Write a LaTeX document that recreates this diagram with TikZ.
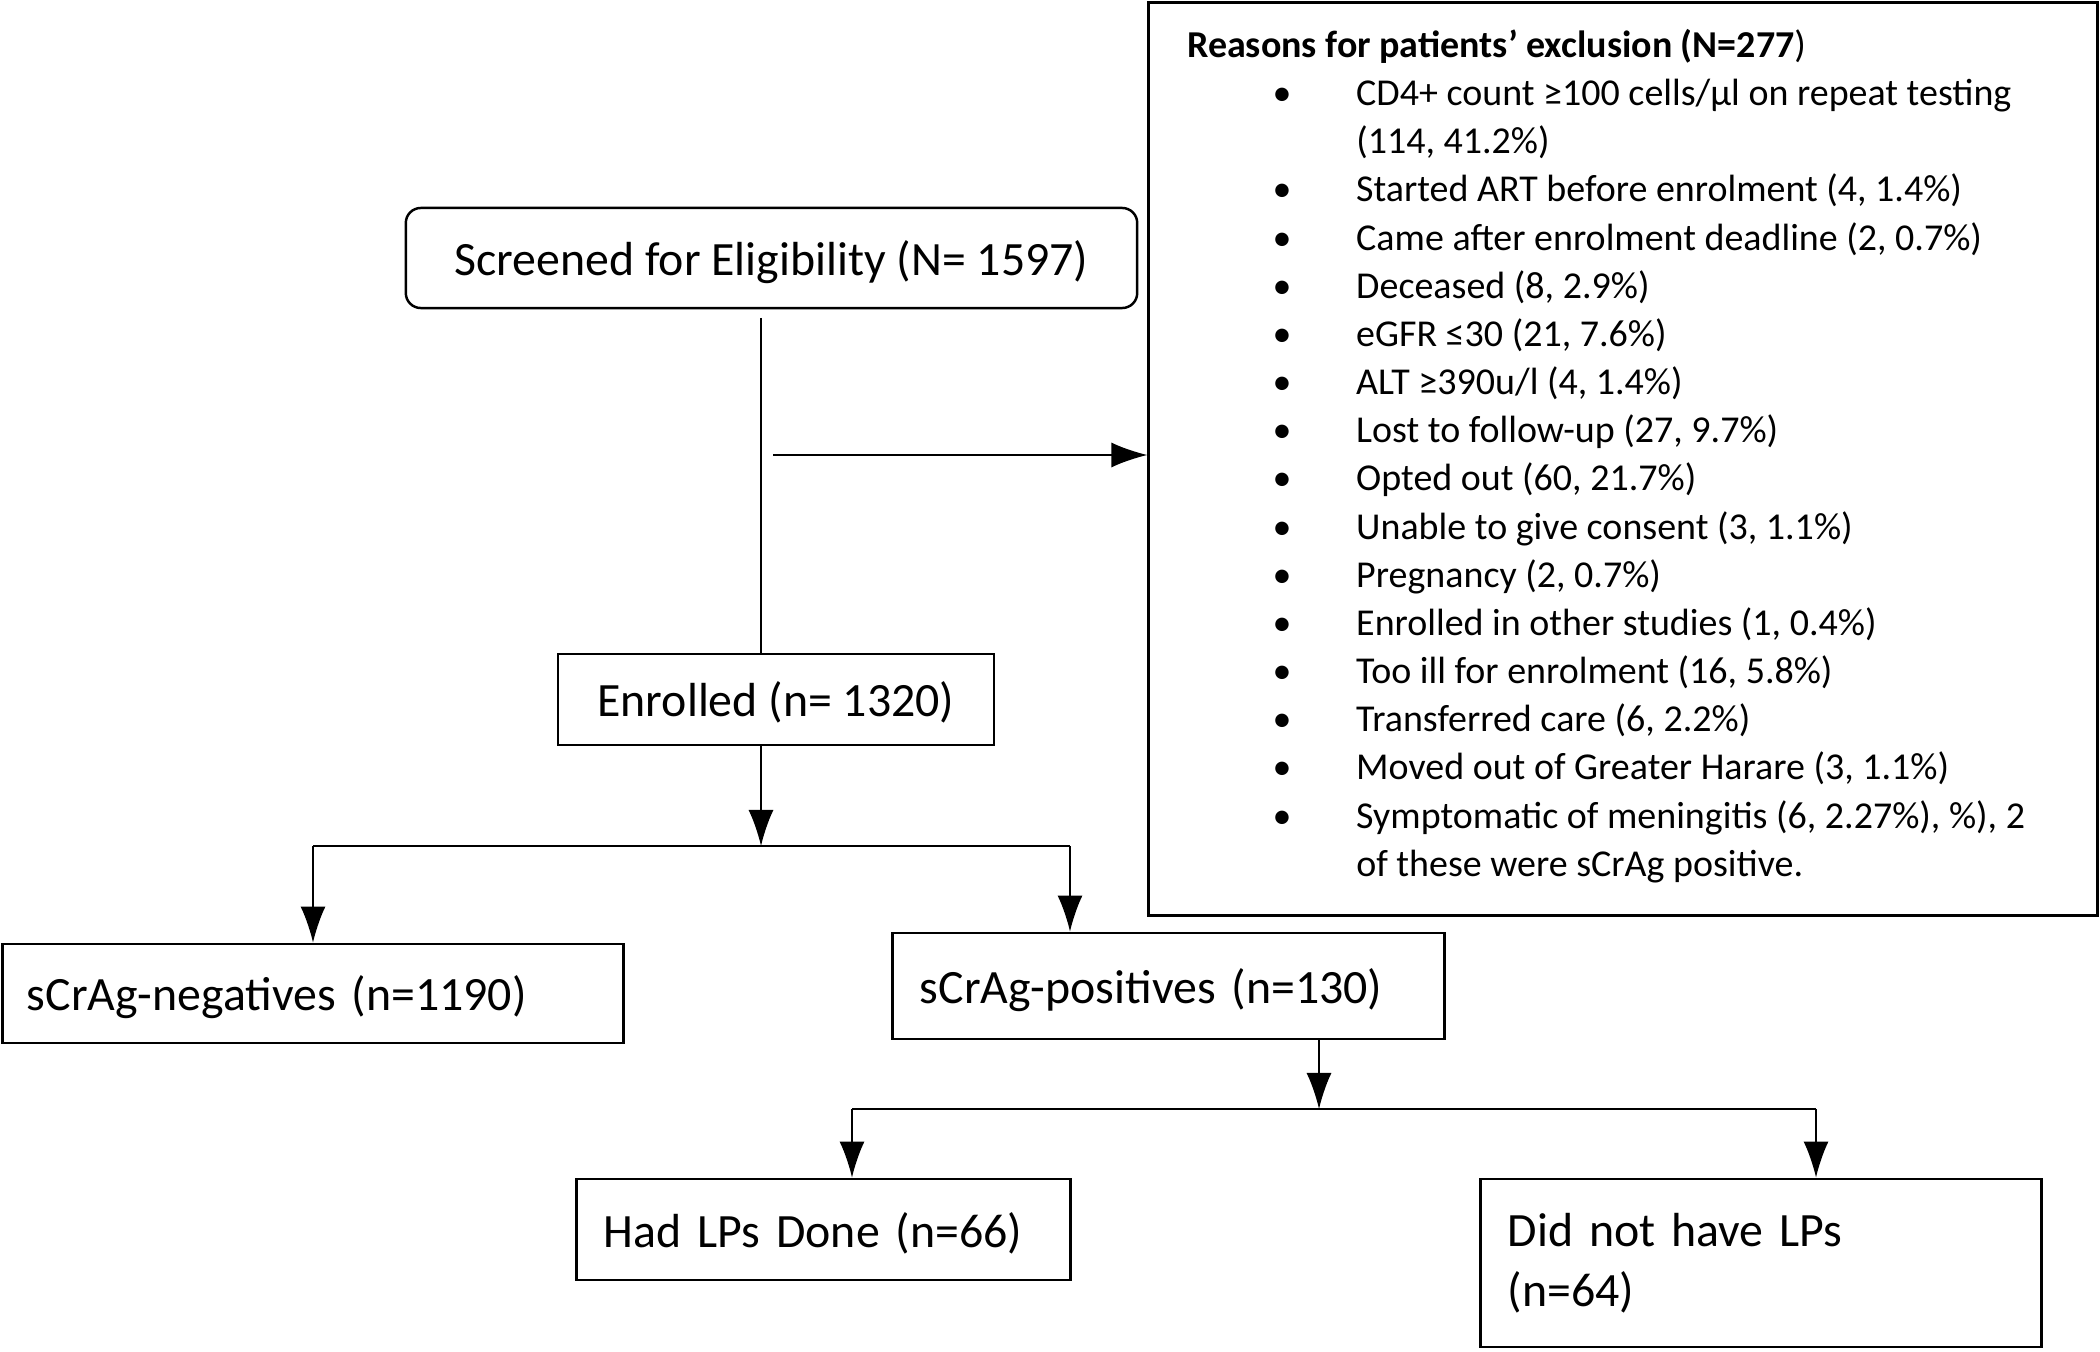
\documentclass[tikz,border=0pt]{standalone}
\usepackage{fontspec}
\setmainfont{Carlito}
\usetikzlibrary{arrows.meta,positioning}
\newcommand\reason[1]{\rlap{\makebox[1.9cm]{\textbullet}}\hspace*{1.69cm}#1}
\newcommand\reasoncont[1]{\hspace*{1.69cm}#1}
\tikzset{
    stage/.style = {
        draw,
        line width=0.8pt,
        align=left,
        inner ysep=0pt,
        font=\fontsize{13.6}{17}\selectfont,
        },
    one line/.style = {
        text depth=0pt,
        },
    thin stage/.style = {
        draw,
        line width=0.45pt,
        text depth=0pt,
        font=\fontsize{13.6}{17}\selectfont,
        },
    flow/.style = {
        line width=0.45pt,
        },
    flow arrow/.style = {
        line width=0.45pt,
        -{Latex[length=0.36cm,width=0.25cm]},
        },
    reasons/.style = {
        align=left,
        inner sep=0pt,
        anchor=north west,
        font=\fontsize{10.8}{13.7}\selectfont,
        }
}
\begin{document}
\begin{tikzpicture}[x=0.01cm,y=-0.01cm]
            \useasboundingbox (0,0) rectangle (2100,1352);

            \node[draw, line width=0.7pt, rounded corners=0.15cm, minimum width=7.31cm, minimum height=1cm,
                text depth=0pt, font=\fontsize{13.6}{17}\selectfont] (screened) at (771.5,258) {Screened for Eligibility (N= 1597)};
            \node[draw, line width=0.75pt, minimum width=9.48cm, minimum height=9.12cm] (excl) at (1623,459) {};
            \node[reasons, below right=0.27cm and 0.39cm of excl.north west] (why) {%
                \textbf{Reasons for patients’ exclusion (N=277})\\
                \reason{CD4+ count ≥100 cells/µl on repeat testing}\\
                \reasoncont{(114, 41.2\%)}\\
                \reason{Started ART before enrolment (4, 1.4\%)}\\
                \reason{Came after enrolment deadline (2, 0.7\%)}\\
                \reason{Deceased (8, 2.9\%)}\\
                \reason{eGFR ≤30 (21, 7.6\%)}\\
                \reason{ALT ≥390u/l (4, 1.4\%)}\\
                \reason{Lost to follow-up (27, 9.7\%)}\\
                \reason{Opted out (60, 21.7\%)}\\
                \reason{Unable to give consent (3, 1.1\%)}\\
                \reason{Pregnancy (2, 0.7\%)}\\
                \reason{Enrolled in other studies (1, 0.4\%)}\\
                \reason{Too ill for enrolment (16, 5.8\%)}\\
                \reason{Transferred care (6, 2.2\%)}\\
                \reason{Moved out of Greater Harare (3, 1.1\%)}\\
                \reason{Symptomatic of meningitis (6, 2.27\%), \%), 2}\\
                \reasoncont{of these were sCrAg positive.}};
            \node[thin stage, minimum width=4.36cm, minimum height=0.91cm] (enrolled) at (776,699.5) {Enrolled (n= 1320)};
            \node[stage, one line, minimum height=0.99cm, text width=5.72cm, inner xsep=0.24cm] (neg) at (313,993.5) {sCrAg-negatives (n=1190)};
            \node[stage, one line, minimum height=1.06cm, text width=4.97cm, inner xsep=0.27cm] (pos) at (1168.5,986) {sCrAg-positives (n=130)};
            \node[stage, one line, minimum height=1.01cm, text width=4.39cm, inner xsep=0.27cm] (had) at (823.5,1229.5) {Had LPs Done (n=66)};
            \node[stage, minimum height=1.68cm, text width=5.06cm, inner xsep=0.27cm] (nolp) at (1761,1263) {Did not have LPs\\(n=64)};

            \coordinate (trunk) at (761,318);
            \coordinate (side) at (773,455);
            \coordinate (split) at (761,846);
            \coordinate (split right) at (1070,846);
            \coordinate (lp split) at (1319,1109);
            \coordinate (lp left) at (852,1109);
            \coordinate (lp right) at (1816,1109);

            \draw[flow] (trunk) -- (trunk |- enrolled.north);
            \draw[flow arrow] (side) -- (side -| excl.west);
            \draw[flow arrow] (trunk |- enrolled.south) -- (split);
            \draw[flow] (split -| neg.north) -- (split right);
            \draw[flow arrow] (split -| neg.north) -- (neg.north);
            \draw[flow arrow] (split right) -- (split right |- pos.north);
            \draw[flow arrow] (lp split |- pos.south) -- (lp split);
            \draw[flow] (lp left) -- (lp right);
            \draw[flow arrow] (lp left) -- (lp left |- had.north);
            \draw[flow arrow] (lp right) -- (lp right |- nolp.north);
        \end{tikzpicture}
\end{document}
